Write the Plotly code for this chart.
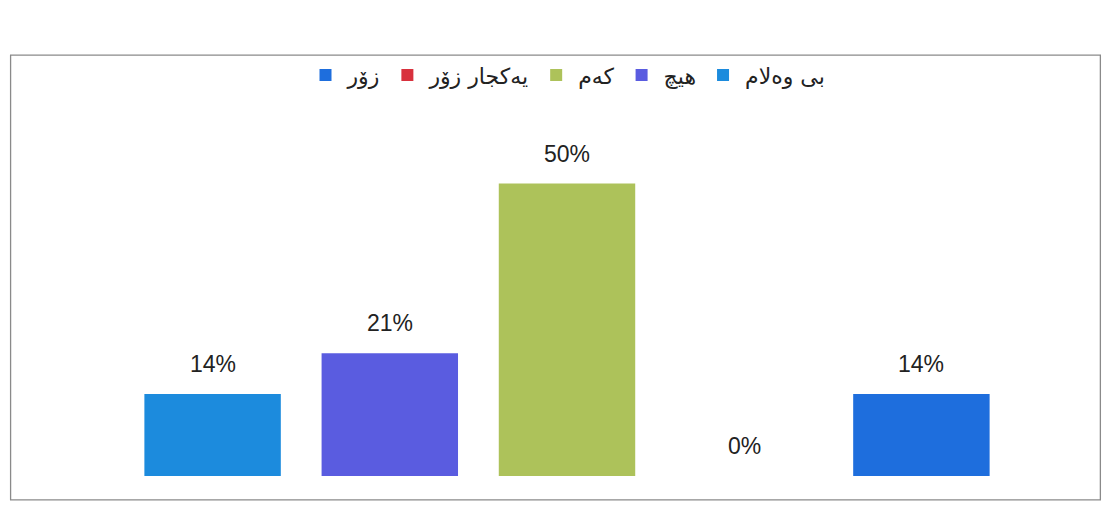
import plotly.graph_objects as go

categories = ["بی وەلام", "هیچ", "کەم", "یەکجار زۆر", "زۆر"]
values = [14, 21, 50, 0, 14]
labels = ["14%", "21%", "50%", "0%", "14%"]
colors = ["#1C8BDD", "#5A5CE0", "#ADC25A", "#D8313D", "#1E6EDD"]

fig = go.Figure()
for cat, val, col in zip(categories, values, colors):
    fig.add_trace(go.Bar(
        x=[cat], y=[val], name=cat,
        marker=dict(color=col, line=dict(width=0)),
    ))

annotations = [
    dict(x=cat, y=val, text=lab, showarrow=False, xref="x", yref="y",
         yanchor="middle", yshift=30,
         font=dict(family="Liberation Sans, Arial, sans-serif",
                   size=23, color="#222222"))
    for cat, val, lab in zip(categories, values, labels)
]

fig.update_layout(
    width=1111, height=517,
    margin=dict(l=116, r=109, t=117, b=49),
    paper_bgcolor="white", plot_bgcolor="white",
    barmode="overlay", bargap=0.23,
    showlegend=True,
    legend=dict(orientation="h", traceorder="reversed",
                x=0.5, xanchor="center", y=1.142, yanchor="middle",
                font=dict(family="DejaVu Sans, Noto Sans, sans-serif", size=22, color="#222222"),
                itemwidth=34, bgcolor="rgba(0,0,0,0)"),
    xaxis=dict(showticklabels=False, showgrid=False, zeroline=False, showline=False,
               categoryorder="array", categoryarray=categories),
    yaxis=dict(range=[0, 60], visible=False),
    annotations=annotations,
    shapes=[dict(type="rect", xref="paper", yref="paper",
                 x0=-0.128, x1=1.102, y0=-0.068, y1=1.199,
                 line=dict(color="#8a8a8a", width=1.3))],
)

fig.write_html("out.html")
